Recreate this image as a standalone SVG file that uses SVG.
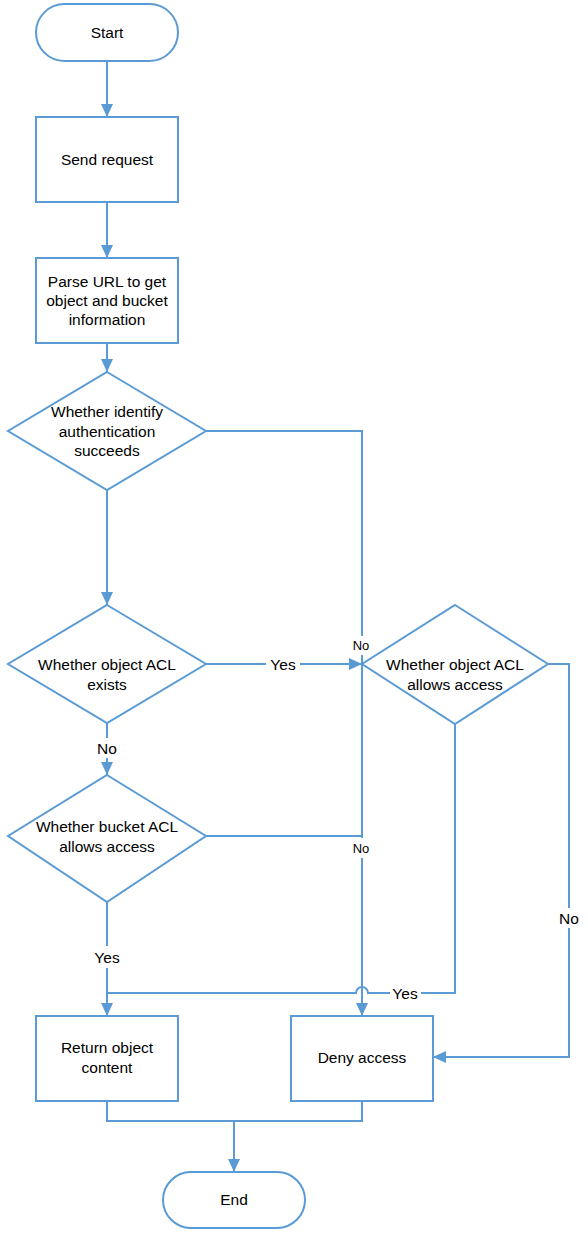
<svg xmlns="http://www.w3.org/2000/svg" width="588" height="1240" viewBox="0 0 588 1240">
<style>
.n{fill:#fff;stroke:#5b9bd5;stroke-width:2}
.c{fill:none;stroke:#5b9bd5;stroke-width:2}
text{font-family:"Liberation Sans",Arial,sans-serif;font-size:15.5px;fill:#000;text-anchor:middle;dominant-baseline:central}
.s{font-size:13px}
</style>
<defs>
<marker id="a" viewBox="0 0 13 12" markerWidth="13" markerHeight="12" refX="13" refY="6" markerUnits="userSpaceOnUse" orient="auto">
<path d="M0,0 L13,6 L0,12 z" fill="#5b9bd5"/>
</marker>
</defs>
<rect width="588" height="1240" fill="#fff"/>
<g id="connectors">
<path class="c" d="M107,61 V117" marker-end="url(#a)"/>
<path class="c" d="M107,202 V258" marker-end="url(#a)"/>
<path class="c" d="M107,343 V372" marker-end="url(#a)"/>
<path class="c" d="M107,490 V605" marker-end="url(#a)"/>
<path class="c" d="M206,431 H362 V636"/>
<path class="c" d="M362,655 V838 M362,858 V1016" marker-end="url(#a)"/>
<path class="c" d="M206,836 H362"/>
<path class="c" d="M206,664 H266 M300,664 H362" marker-end="url(#a)"/>
<path class="c" d="M107,723 V738 M107,758 V775" marker-end="url(#a)"/>
<path class="c" d="M548,664 H569 V908 M569,928 V1057 H433" marker-end="url(#a)"/>
<path class="c" d="M455,724 V993 H421 M390,993 H368 A6,6 0 0 0 356,993 H107"/>
<path class="c" d="M107,902 V946 M107,968 V1016" marker-end="url(#a)"/>
<path class="c" d="M107,1101 V1121 H362 V1101"/>
<path class="c" d="M234,1121 V1172" marker-end="url(#a)"/>
<text x="283" y="664">Yes</text>
<text class="s" x="361" y="645">No</text>
<text x="107" y="748">No</text>
<text class="s" x="361" y="848">No</text>
<text x="569" y="918">No</text>
<text x="107" y="957">Yes</text>
<text x="405" y="993">Yes</text>
</g>
<g id="start"><rect class="n" x="36" y="4" width="142" height="57" rx="28.5"/><text x="107" y="32">Start</text></g>
<g id="send"><rect class="n" x="36" y="117" width="142" height="85"/><text x="107" y="159">Send request</text></g>
<g id="parse"><rect class="n" x="36" y="258" width="142" height="85"/><text x="107" y="281">Parse URL to get</text><text x="107" y="300">object and bucket</text><text x="107" y="319">information</text></g>
<g id="auth"><path class="n" d="M107,372 L206,431 L107,490 L8,431 z"/><text x="107" y="411">Whether identify</text><text x="107" y="431">authentication</text><text x="107" y="450">succeeds</text></g>
<g id="objexists"><path class="n" d="M107,605 L206,664 L107,723 L8,664 z"/><text x="107" y="664">Whether object ACL</text><text x="107" y="684">exists</text></g>
<g id="objallows"><path class="n" d="M455,605 L548,664 L455,724 L362,664 z"/><text x="455" y="664">Whether object ACL</text><text x="455" y="684">allows access</text></g>
<g id="bucket"><path class="n" d="M107,775 L206,836 L107,902 L8,836 z"/><text x="107" y="826">Whether bucket ACL</text><text x="107" y="846">allows access</text></g>
<g id="return"><rect class="n" x="36" y="1016" width="142" height="85"/><text x="107" y="1047">Return object</text><text x="107" y="1067">content</text></g>
<g id="deny"><rect class="n" x="291" y="1016" width="142" height="85"/><text x="362" y="1057">Deny access</text></g>
<g id="end"><rect class="n" x="163" y="1172" width="142" height="56" rx="28"/><text x="234" y="1199">End</text></g>
</svg>
